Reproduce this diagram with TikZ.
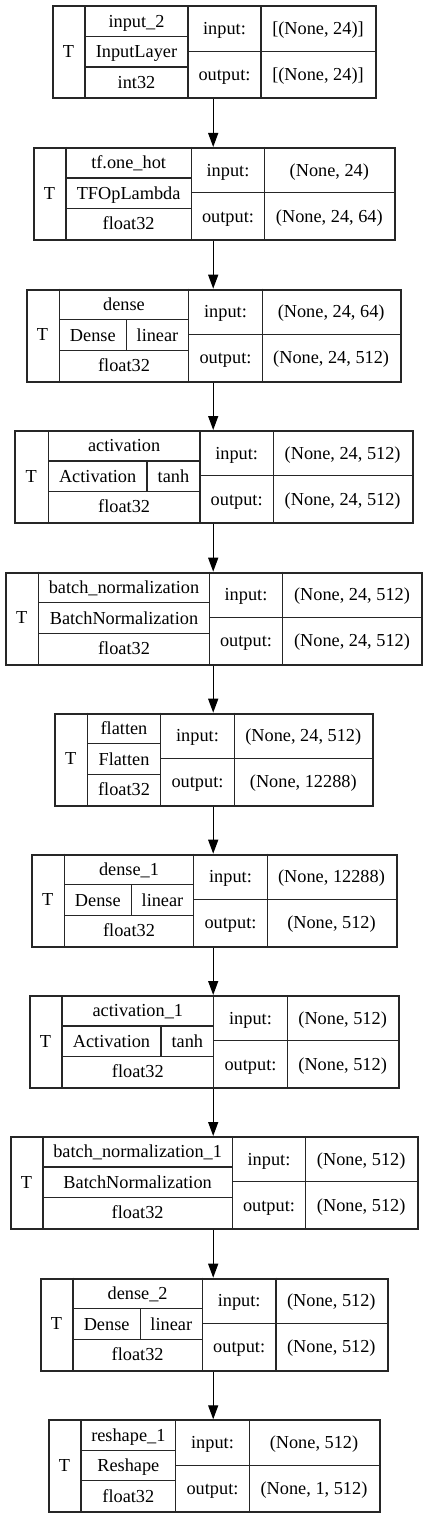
\documentclass[tikz,border=0pt]{standalone}
\usepackage{fontspec}
\setmainfont{Liberation Serif}
\newfontfamily\timesfont{Liberation Serif}
\usetikzlibrary{arrows.meta}
\tikzset{
  outerbox/.style={draw=black!85, line width=1.8pt, rectangle, inner sep=0pt},
  cellline/.style={draw=black!85, line width=1.1pt},
  txt/.style={font=\timesfont\fontsize{18.3}{20}\selectfont, inner sep=0pt, text height=16.3pt, text depth=3.9pt},
  arr/.style={draw=black, line width=1.3pt, -{Triangle[length=14pt,width=10pt]}}
}
\newcommand\lay[9]{%
  \def\Lname{#1}\def\Ltop{#2}\def\Lleft{#3}\def\Lxa{#4}\def\Lxb{#5}%
  \def\Lxc{#6}\def\Lright{#7}\def\Lsplit{#8}\def\Lnm{#9}\layrest}
\newcommand\layrest[5]{%
  \pgfmathsetmacro\Lbot{\Ltop+92}%
  \pgfmathsetmacro\Lw{\Lright-\Lleft}%
  \pgfmathsetmacro\Lra{\Ltop+31}%
  \pgfmathsetmacro\Lrb{\Ltop+61.5}%
  \pgfmathsetmacro\Lio{\Ltop+45.8}%
  \node[outerbox, minimum width=\Lw pt, minimum height=92pt, anchor=north west] (\Lname) at (\Lleft,\Ltop) {};
  \draw[cellline] (\Lxa,\Ltop) -- (\Lxa,\Lbot) (\Lxb,\Ltop) -- (\Lxb,\Lbot)
    (\Lxc,\Ltop) -- (\Lxc,\Lbot) (\Lxa,\Lra) -- (\Lxb,\Lra) (\Lxa,\Lrb) -- (\Lxb,\Lrb)
    (\Lxb,\Lio) -- (\Lright,\Lio);
  \node[txt] (\Lname-t) at ({(\Lleft+\Lxa)/2},{\Ltop+46}) {T};
  \node[txt] (\Lname-n) at ({(\Lxa+\Lxb)/2},{\Ltop+15.5}) {\Lnm};
  \ifx\Lsplit\empty
    \node[txt] (\Lname-c) at ({(\Lxa+\Lxb)/2},{\Ltop+46.25}) {#1};
  \else
    \draw[cellline] (\Lsplit,\Lra) -- (\Lsplit,\Lrb);
    \node[txt] (\Lname-c) at ({(\Lxa+\Lsplit)/2},{\Ltop+46.25}) {#1};
    \node[txt] (\Lname-a) at ({(\Lsplit+\Lxb)/2},{\Ltop+46.25}) {#2};
  \fi
  \node[txt] (\Lname-d) at ({(\Lxa+\Lxb)/2},{\Ltop+76.75}) {#3};
  \node[txt] (\Lname-il) at ({(\Lxb+\Lxc)/2},{\Ltop+22.9}) {input:};
  \node[txt] (\Lname-iv) at ({(\Lxc+\Lright)/2},{\Ltop+22.9}) {#4};
  \node[txt] (\Lname-ol) at ({(\Lxb+\Lxc)/2},{\Ltop+68.9}) {output:};
  \node[txt] (\Lname-ov) at ({(\Lxc+\Lright)/2},{\Ltop+68.9}) {#5};
}
\begin{document}
\begin{tikzpicture}[x=1pt,y=-1pt]
\useasboundingbox[fill=white] (0,0) rectangle (427,1517);
\lay{b1}{5.5}{52}{85}{188}{261}{375}{}{input\_2}{InputLayer}{}{int32}{[(None, 24)]}{[(None, 24)]}
\lay{b2}{147}{32.7}{66}{191.3}{264.7}{394}{}{tf.one\_hot}{TFOpLambda}{}{float32}{(None, 24)}{(None, 24, 64)}
\lay{b3}{288.7}{25.7}{59.3}{188.7}{262.3}{400}{126.3}{dense}{Dense}{linear}{float32}{(None, 24, 64)}{(None, 24, 512)}
\lay{b4}{430}{14.3}{48.3}{200}{273.3}{412}{147}{activation}{Activation}{tanh}{float32}{(None, 24, 512)}{(None, 24, 512)}
\lay{b5}{571.7}{4.7}{38.7}{209.3}{282.7}{421.3}{}{batch\_normalization}{BatchNormalization}{}{float32}{(None, 24, 512)}{(None, 24, 512)}
\lay{b6}{712.7}{54}{87.3}{160.7}{234.3}{372.3}{}{flatten}{Flatten}{}{float32}{(None, 24, 512)}{(None, 12288)}
\lay{b7}{853.7}{31}{64.3}{193.7}{267.3}{395.7}{131.3}{dense\_1}{Dense}{linear}{float32}{(None, 12288)}{(None, 512)}
\lay{b8}{995}{28.7}{62}{213.7}{287.3}{398}{161}{activation\_1}{Activation}{tanh}{float32}{(None, 512)}{(None, 512)}
\lay{b9}{1136}{9.7}{43}{232.3}{305.7}{416.7}{}{batch\_normalization\_1}{BatchNormalization}{}{float32}{(None, 512)}{(None, 512)}
\lay{b10}{1277.7}{39.7}{73}{202.3}{276}{386.7}{140.3}{dense\_2}{Dense}{linear}{float32}{(None, 512)}{(None, 512)}
\lay{b11}{1419.3}{47.7}{81}{175.7}{249.3}{378.7}{}{reshape\_1}{Reshape}{}{float32}{(None, 512)}{(None, 1, 512)}
\coordinate (axis) at (213.2,0);
\foreach \a/\b in {b1/b2,b2/b3,b3/b4,b4/b5,b5/b6,b6/b7,b7/b8,b8/b9,b9/b10,b10/b11}
  \draw[arr] (\a.south -| axis) -- (\b.north -| axis);
\end{tikzpicture}
\end{document}
